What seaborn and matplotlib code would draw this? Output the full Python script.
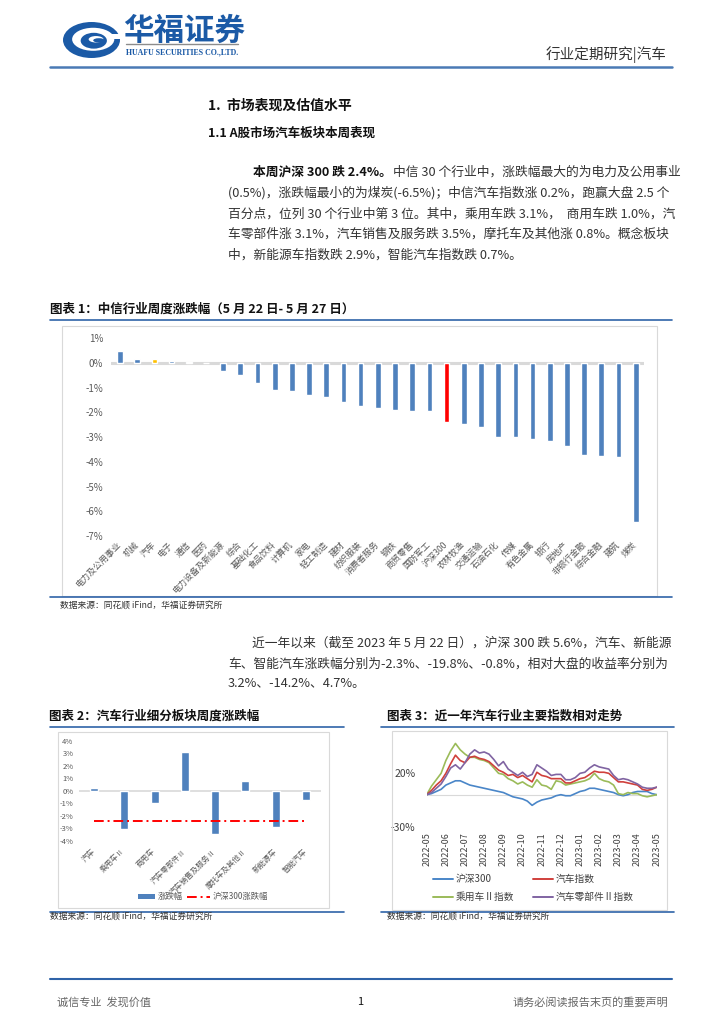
import numpy as np
import pandas as pd
import matplotlib
matplotlib.use('Agg')
import matplotlib.pyplot as plt
from matplotlib.lines import Line2D
from matplotlib.patches import Rectangle, Ellipse
import seaborn as sns

W, H = 724, 1024

# 图表1：中信行业周度涨跌幅 (%)
industries = ['电力及公用事业', '机械', '汽车', '电子', '通信', '医药', '电力设备及新能源',
              '综合', '基础化工', '食品饮料', '计算机', '家电', '轻工制造', '建材', '纺织服装',
              '消费者服务', '钢铁', '商贸零售', '国防军工', '沪深300', '农林牧渔', '交通运输',
              '石油石化', '传媒', '有色金属', '银行', '房地产', '非银行金融', '综合金融', '建筑', '煤炭']
weekly_chg = [0.5, 0.17, 0.18, 0.1, 0.03, -0.01, -0.32, -0.47, -0.81, -1.09, -1.13, -1.28,
              -1.37, -1.57, -1.74, -1.82, -1.92, -1.95, -1.95, -2.38, -2.47, -2.6, -2.99,
              -2.99, -3.06, -3.15, -3.34, -3.73, -3.76, -3.79, -6.45]

# 图表2：汽车行业细分板块周度涨跌幅 (%)
sub_sectors = ['汽车', '乘用车Ⅱ', '商用车', '汽车零部件Ⅱ', '汽车销售及服务Ⅱ', '摩托车及其他Ⅱ', '新能源车', '智能汽车']
sub_chg = [0.2, -3.1, -1.0, 3.1, -3.5, 0.8, -2.9, -0.7]
hs300_week = [-2.4, -2.4, -2.4, -2.4, -2.4, -2.4, -2.4, -2.4]

# 图表3：近一年相对走势 (%)，约每周一个点
month_labels = ['2022-05', '2022-06', '2022-07', '2022-08', '2022-09', '2022-10', '2022-11',
                '2022-12', '2023-01', '2023-02', '2023-03', '2023-04', '2023-05']
hs300 = [0, 1, 3, 5, 9, 11, 13, 13, 11, 9, 8, 7, 6, 5, 4, 3, 2, 0, -2, -3, -4, -6, -10, -7, -5,
         -4, -3, -1, 0, -1, -1, 1, 3, 4, 6, 6, 5, 4, 3, 2, 0, -1, 0, 2, 3, 3, 3, 1, 0]
auto_idx = [0, 4, 9, 13, 20, 29, 37, 32, 30, 35, 36, 34, 33, 31, 27, 23, 21, 18, 19, 16, 18, 15,
            12, 21, 18, 17, 15, 15, 15, 11, 11, 13, 15, 16, 19, 22, 21, 21, 20, 16, 12, 12, 11,
            10, 9, 5, 4, 5, 7]
pass_car = [0, 8, 14, 20, 32, 41, 48, 42, 38, 35, 35, 33, 32, 30, 25, 20, 19, 15, 13, 10, 12, 9,
            7, 14, 9, 8, 5, 13, 12, 9, 10, 11, 12, 13, 15, 20, 15, 13, 12, 9, 1, 0, 2, 1, 1, -1,
            -2, -1, 0]
parts = [0, 2, 6, 10, 17, 25, 28, 24, 30, 38, 42, 39, 40, 38, 33, 27, 31, 24, 21, 18, 21, 17, 19,
         28, 25, 22, 18, 19, 19, 14, 14, 16, 20, 21, 25, 28, 26, 25, 24, 18, 14, 15, 14, 12, 10,
         7, 6, 6, 7]

sns.set_theme(style='white')
plt.rcParams['font.family'] = ['Noto Sans CJK SC', 'DejaVu Sans']
plt.rcParams['axes.unicode_minus'] = False

fig = plt.figure(figsize=(W / 100, H / 100), dpi=100)
fig.patch.set_facecolor('white')


def box(x0, y0, x1, y1):
    return [x0 / W, 1 - y1 / H, (x1 - x0) / W, (y1 - y0) / H]


def ftext(x, y, s, **kw):
    kw.setdefault('va', 'center')
    return fig.text(x / W, 1 - y / H, s, **kw)


def hline(x0, x1, y, color='#2F63A8', lw=1.2, **kw):
    fig.add_artist(Line2D([x0 / W, x1 / W], [1 - y / H, 1 - y / H], color=color, lw=lw, **kw))


def frame(x0, y0, x1, y1):
    fig.add_artist(Rectangle((x0 / W, 1 - y1 / H), (x1 - x0) / W, (y1 - y0) / H, fill=False,
                             ec='#D9D9D9', lw=0.8, transform=fig.transFigure))


BLUE = '#1B5AA6'
TXT = '#333333'

# ---- header ----
lax = fig.add_axes(box(63, 22, 120, 58))
lax.set_xlim(0, 1)
lax.set_ylim(0, 1)
lax.axis('off')
lax.add_patch(Ellipse((0.5, 0.5), 1.0, 1.0, fc=BLUE, ec='none'))
lax.add_patch(Ellipse((0.53, 0.52), 0.74, 0.64, fc='white', ec='none'))
lax.add_patch(Rectangle((0.8, 0.52), 0.25, 0.16, fc='white', ec='none'))
lax.add_patch(Ellipse((0.54, 0.48), 0.46, 0.44, fc=BLUE, ec='none'))
lax.add_patch(Ellipse((0.58, 0.52), 0.26, 0.18, fc='white', ec='none'))
lax.add_patch(Ellipse((0.63, 0.49), 0.2, 0.12, fc=BLUE, ec='none'))

ftext(123, 31, '华福证券', fontsize=22, fontweight='bold', color=BLUE)
hline(126, 238, 44, color='#8C8C8C', lw=1.0)
ftext(126, 52, 'HUAFU SECURITIES CO.,LTD.', fontsize=5.7, color=BLUE, fontweight='bold',
      family=['Liberation Serif', 'DejaVu Serif'])
ftext(667, 55, '行业定期研究|汽车', fontsize=10.5, color=TXT, ha='right')
hline(50, 672, 67, color='#4A7AB5', lw=1.8)

# ---- section text ----
ftext(208, 106, '1.  市场表现及估值水平', fontsize=10, fontweight='bold', color='#111111')
ftext(208, 133, '1.1 A股市场汽车板块本周表现', fontsize=9, fontweight='bold', color='#111111')

BODY = 9.2
bold_part = ftext(253, 172, '本周沪深 300 跌 2.4%。', fontsize=BODY, fontweight='bold', color='#111111')
fig.canvas.draw()
bb = bold_part.get_window_extent(renderer=fig.canvas.get_renderer())
ftext(bb.x1 + 1, 172, '中信 30 个行业中，涨跌幅最大的为电力及公用事业', fontsize=BODY, color=TXT)
para1 = ['(0.5%)，涨跌幅最小的为煤炭(-6.5%)；中信汽车指数涨 0.2%，跑赢大盘 2.5 个',
         '百分点，位列 30 个行业中第 3 位。其中，乘用车跌 3.1%，  商用车跌 1.0%，汽',
         '车零部件涨 3.1%，汽车销售及服务跌 3.5%，摩托车及其他涨 0.8%。概念板块',
         '中，新能源车指数跌 2.9%，智能汽车指数跌 0.7%。']
for i, line in enumerate(para1):
    ftext(228, 193 + i * 20.7, line, fontsize=BODY, color=TXT)

# ---- 图表1 ----
ftext(50, 309, '图表 1：中信行业周度涨跌幅（5 月 22 日- 5 月 27 日）', fontsize=9,
      fontweight='bold', color='#111111')
hline(50, 672, 320)
frame(62, 326, 657, 596)
hline(50, 672, 597)
ftext(60, 606, '数据来源：同花顺 iFind，华福证券研究所', fontsize=6.3, color=TXT)

colors1 = ['#4F81BD'] * len(industries)
colors1[industries.index('汽车')] = '#FFC000'
colors1[industries.index('沪深300')] = '#FF0000'
ax1 = fig.add_axes(box(111.4, 338.3, 644.3, 536))
sns.barplot(x=industries, y=weekly_chg, hue=industries, palette=colors1, saturation=1,
            width=0.33, legend=False, ax=ax1)
ax1.axhline(0, color='#D9D9D9', lw=2.2, zorder=0.5)
ax1.set_xlim(-0.5, len(industries) - 0.5)
ax1.set_ylim(-7, 1)
ax1.set_yticks(range(-7, 2))
ax1.set_yticklabels([f'{v}%' for v in range(-7, 2)], fontsize=7, color='#595959')
ax1.set_xticks(range(len(industries)))
ax1.set_xticklabels(industries, rotation=45, ha='right', va='center', rotation_mode='anchor',
                    fontsize=6.2, color='#595959')
ax1.tick_params(axis='x', length=0, pad=5)
ax1.tick_params(axis='y', length=0, pad=6)
ax1.set_xlabel('')
ax1.set_ylabel('')
sns.despine(ax=ax1, left=True, bottom=True)

# ---- paragraph 2 ----
ftext(252, 643, '近一年以来（截至 2023 年 5 月 22 日），沪深 300 跌 5.6%，汽车、新能源',
      fontsize=BODY, color=TXT)
ftext(228, 664, '车、智能汽车涨跌幅分别为-2.3%、-19.8%、-0.8%，相对大盘的收益率分别为',
      fontsize=BODY, color=TXT)
ftext(228, 684, '3.2%、-14.2%、4.7%。', fontsize=BODY, color=TXT)

# ---- 图表2 ----
ftext(49, 716, '图表 2：汽车行业细分板块周度涨跌幅', fontsize=9, fontweight='bold', color='#111111')
ftext(387, 716, '图表 3：近一年汽车行业主要指数相对走势', fontsize=9, fontweight='bold', color='#111111')
hline(50, 344, 727)
hline(381, 674, 727)
frame(58, 732, 329, 908)
frame(392, 731, 667, 910)
hline(50, 344, 912)
hline(381, 674, 912)
ftext(50, 917, '数据来源：同花顺 iFind，华福证券研究所', fontsize=6.3, color=TXT)
ftext(387, 917, '数据来源：同花顺 iFind，华福证券研究所', fontsize=6.3, color=TXT)

ax2 = fig.add_axes(box(79, 741, 321, 840.7))
sns.barplot(x=sub_sectors, y=sub_chg, color='#4F81BD', saturation=1, width=0.27, ax=ax2)
sns.lineplot(x=np.arange(len(sub_sectors)), y=hs300_week, color='#FF0000', lw=1.4,
             dashes=False, ax=ax2)
ax2.lines[-1].set_dashes([5, 2, 1, 2])
ax2.axhline(0, color='#D9D9D9', lw=1.2, zorder=0.5)
ax2.set_xlim(-0.5, len(sub_sectors) - 0.5)
ax2.set_ylim(-4, 4)
ax2.set_yticks(range(-4, 5))
ax2.set_yticklabels([f'{v}%' for v in range(-4, 5)], fontsize=5.5, color='#595959')
ax2.set_xticks(range(len(sub_sectors)))
ax2.set_xticklabels(sub_sectors, rotation=45, ha='right', va='center', rotation_mode='anchor',
                    fontsize=5.5, color='#595959')
ax2.tick_params(axis='x', length=0, pad=7)
ax2.tick_params(axis='y', length=0, pad=4)
ax2.set_xlabel('')
ax2.set_ylabel('')
sns.despine(ax=ax2, left=True, bottom=True)

# legend 图表2
fig.add_artist(Rectangle((138 / W, 1 - 899 / H), 17 / W, 5 / H, fc='#4F81BD', ec='none',
                         transform=fig.transFigure))
ftext(158, 897, '涨跌幅', fontsize=6, color='#595959')
hline(187, 210, 897, color='#FF0000', lw=1.4, dashes=[5, 2, 1, 2])
ftext(213, 897, '沪深300涨跌幅', fontsize=6, color='#595959')

# ---- 图表3 ----
series3 = {'沪深300': hs300, '汽车指数': auto_idx, '乘用车Ⅱ指数': pass_car, '汽车零部件Ⅱ指数': parts}
colors3 = {'沪深300': '#4A86C8', '汽车指数': '#D0403C', '乘用车Ⅱ指数': '#9BBB59', '汽车零部件Ⅱ指数': '#8064A2'}
pos = np.arange(len(hs300)) / 4
df3 = pd.concat([pd.DataFrame({'m': pos, 'v': v, 's': k}) for k, v in series3.items()])

ax3 = fig.add_axes(box(426.7, 734.9, 656.7, 826.7))
ax3.axhline(0, color='#D9D9D9', lw=0.8, zorder=0)
for name in ['沪深300', '乘用车Ⅱ指数', '汽车指数', '汽车零部件Ⅱ指数']:
    sns.lineplot(data=df3[df3['s'] == name], x='m', y='v', color=colors3[name], lw=1.2, ax=ax3)
ax3.set_xlim(0, 12)
ax3.set_ylim(-30, 56)
ax3.set_yticks([20, -30])
ax3.set_yticklabels(['20%', '-30%'], fontsize=7.5, color='#404040')
ax3.set_xticks(range(len(month_labels)))
ax3.set_xticklabels(month_labels, rotation=90, fontsize=6.5, color='#404040')
ax3.tick_params(axis='x', length=0, pad=4)
ax3.tick_params(axis='y', length=0, pad=8)
ax3.set_xlabel('')
ax3.set_ylabel('')
sns.despine(ax=ax3, left=True, bottom=True)

leg_items = [('沪深300', 433, 879), ('汽车指数', 533, 879), ('乘用车Ⅱ指数', 433, 897),
             ('汽车零部件Ⅱ指数', 533, 897)]
for name, lx, ly in leg_items:
    hline(lx, lx + 20, ly, color=colors3[name], lw=1.4)
    ftext(lx + 23, ly, name, fontsize=7, color='#404040')

# ---- footer ----
hline(50, 672, 979, color='#2F63A8', lw=1.5)
ftext(57, 1002, '诚信专业  发现价值', fontsize=8, color='#666666')
ftext(360, 1002, '1', fontsize=8, color='#111111', ha='center')
ftext(668, 1002, '请务必阅读报告末页的重要声明', fontsize=8, color='#666666', ha='right')

fig.savefig('out.png', dpi=100, facecolor='white')
